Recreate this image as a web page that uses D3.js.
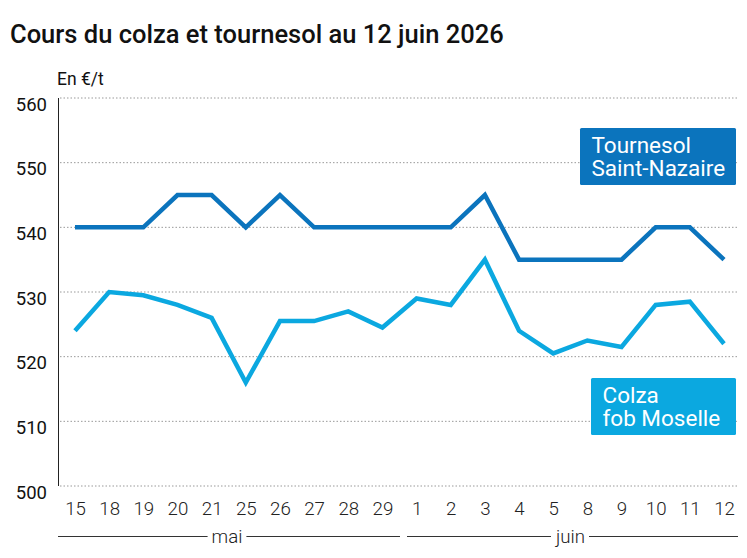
<!DOCTYPE html>
<html>
<head>
<meta charset="utf-8">
<script src="https://cdn.jsdelivr.net/npm/d3@7"></script>
<style>
  body { margin: 0; background: #fff; font-family: Roboto, sans-serif; }
  svg text { font-family: Roboto, sans-serif; }
</style>
</head>
<body>
<main></main>
<script>
const w = 747;
const h = 558;

const days = ["15", "18", "19", "20", "21", "25", "26", "27", "28", "29",
              "1", "2", "3", "4", "5", "8", "9", "10", "11", "12"];
const tournesol = [540, 540, 540, 545, 545, 540, 545, 540, 540, 540,
                   540, 540, 545, 535, 535, 535, 535, 540, 540, 535];
const colza = [524, 530, 529.5, 528, 526, 516, 525.5, 525.5, 527, 524.5,
               529, 528, 535, 524, 520.5, 522.5, 521.5, 528, 528.5, 522];
const yTicks = [500, 510, 520, 530, 540, 550, 560];
const months = [
    {name: "mai", x1: 58, x2: 400},
    {name: "juin", x1: 407, x2: 738}
];

const darkBlue = "#0b74bd";
const lightBlue = "#0ba8e0";

const svg = d3.select("main")
    .append("svg")
    .attr("width", w)
    .attr("height", h);

const xScale = d3.scalePoint()
    .domain(days.map((d, i) => i))
    .range([75, 724]);

const yScale = d3.scaleLinear()
    .domain([500, 560])
    .range([486, 98]);

// title
svg.append("text")
    .attr("x", 10)
    .attr("y", 43)
    .attr("font-size", 25.5)
    .attr("font-weight", 500)
    .attr("fill", "#111")
    .text("Cours du colza et tournesol au 12 juin 2026");

svg.append("text")
    .attr("x", 57)
    .attr("y", 85)
    .attr("font-size", 17.5)
    .attr("fill", "#111")
    .text("En €/t");

// grid
svg.selectAll(".grid")
    .data(yTicks)
    .enter()
    .append("line")
    .attr("class", "grid")
    .attr("x1", 60)
    .attr("x2", 738)
    .attr("y1", d => yScale(d))
    .attr("y2", d => yScale(d))
    .attr("stroke", "#999")
    .attr("stroke-width", 1)
    .attr("stroke-dasharray", "1.5,2");

// y axis
const yAxis = d3.axisLeft(yScale)
    .tickValues(yTicks)
    .tickSize(0)
    .tickPadding(11);

const gy = svg.append("g")
    .attr("transform", "translate(58, 0)")
    .call(yAxis);
gy.select(".domain").remove();
gy.selectAll("text")
    .attr("font-size", 18.5)
    .attr("fill", "#111")
    .attr("dy", 12)
    .attr("font-family", "Roboto, sans-serif");

svg.append("line")
    .attr("x1", 58.5)
    .attr("x2", 58.5)
    .attr("y1", yScale(560))
    .attr("y2", yScale(500))
    .attr("stroke", "#222")
    .attr("stroke-width", 1);

// x axis
const xAxis = d3.axisBottom(xScale)
    .tickFormat(i => days[i])
    .tickSize(0)
    .tickPadding(16);

const gx = svg.append("g")
    .attr("transform", "translate(0, 486)")
    .call(xAxis);
gx.select(".domain").remove();
gx.selectAll("text")
    .attr("font-size", 18.7)
    .attr("font-weight", 300)
    .attr("fill", "#222")
    .attr("font-family", "Roboto, sans-serif");

// month brackets
months.forEach(m => {
    const g = svg.append("g");
    const label = g.append("text")
        .attr("x", (m.x1 + m.x2) / 2 - 2)
        .attr("y", 543)
        .attr("text-anchor", "middle")
        .attr("font-size", 18.7)
        .attr("font-weight", 300)
        .attr("fill", "#222")
        .text(m.name);
    const bb = label.node().getBBox();
    g.append("line")
        .attr("x1", m.x1).attr("x2", bb.x - 4)
        .attr("y1", 536.5).attr("y2", 536.5)
        .attr("stroke", "#333");
    g.append("line")
        .attr("x1", bb.x + bb.width + 4).attr("x2", m.x2)
        .attr("y1", 536.5).attr("y2", 536.5)
        .attr("stroke", "#333");
});

// lines
const line = d3.line()
    .x((d, i) => xScale(i))
    .y(d => yScale(d));

svg.append("path")
    .datum(tournesol)
    .attr("d", line)
    .attr("fill", "none")
    .attr("stroke", darkBlue)
    .attr("stroke-width", 4.5)
    .attr("stroke-linejoin", "miter");

svg.append("path")
    .datum(colza)
    .attr("d", line)
    .attr("fill", "none")
    .attr("stroke", lightBlue)
    .attr("stroke-width", 4.5)
    .attr("stroke-linejoin", "miter");

// labels
const labels = [
    {lines: ["Tournesol", "Saint-Nazaire"], color: darkBlue, x: 580, y: 128, w: 156, h: 57},
    {lines: ["Colza", "fob Moselle"], color: lightBlue, x: 591, y: 378, w: 145, h: 57}
];

labels.forEach(l => {
    svg.append("rect")
        .attr("x", l.x)
        .attr("y", l.y)
        .attr("width", l.w)
        .attr("height", l.h)
        .attr("rx", 1.5)
        .attr("fill", l.color);
    l.lines.forEach((t, i) => {
        svg.append("text")
            .attr("x", l.x + 11.5)
            .attr("y", l.y + 25 + i * 22.5)
            .attr("font-size", 22.5)
            .attr("fill", "#fff")
            .text(t);
    });
});
</script>
</body>
</html>
